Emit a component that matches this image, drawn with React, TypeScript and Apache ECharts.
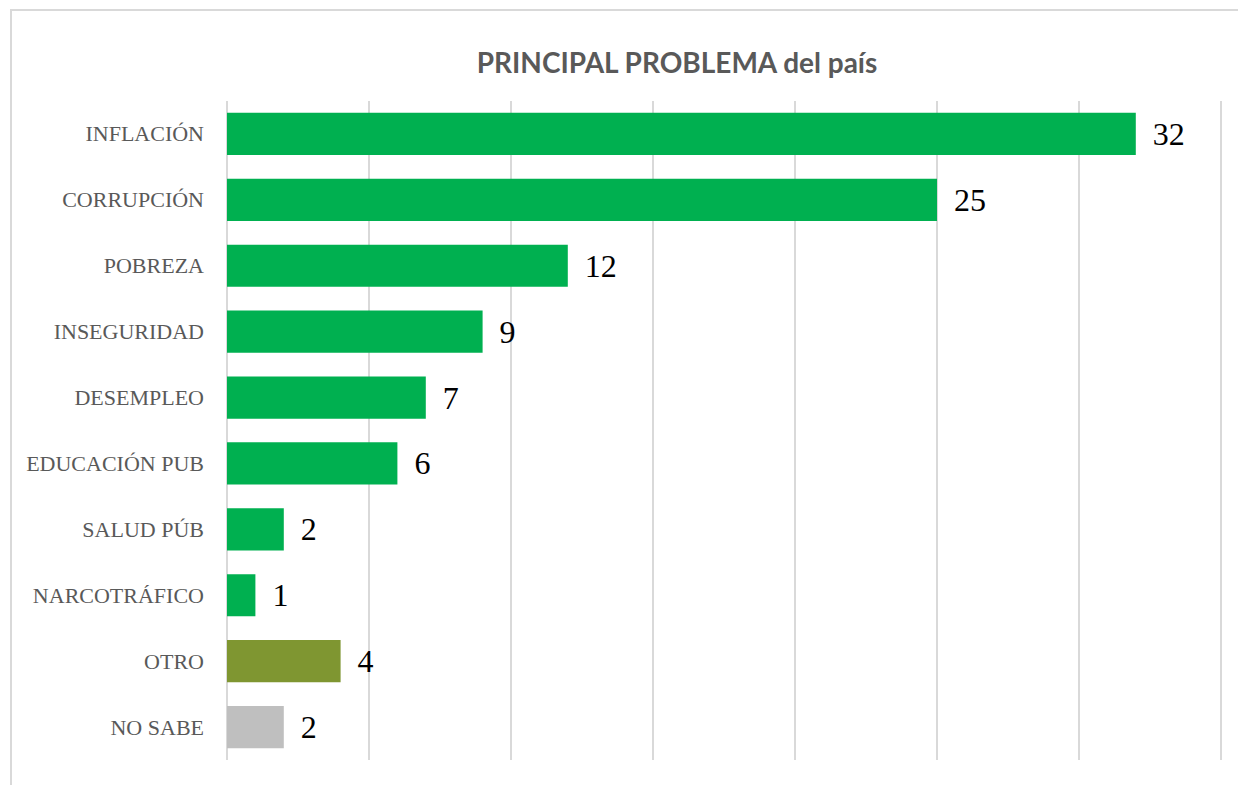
import React, { useEffect, useRef } from "react";
import * as echarts from "echarts";

const categories = [
  "INFLACIÓN",
  "CORRUPCIÓN",
  "POBREZA",
  "INSEGURIDAD",
  "DESEMPLEO",
  "EDUCACIÓN PUB",
  "SALUD PÚB",
  "NARCOTRÁFICO",
  "OTRO",
  "NO SABE",
];
const values = [32, 25, 12, 9, 7, 6, 2, 1, 4, 2];
const barColors = [
  "#00B050",
  "#00B050",
  "#00B050",
  "#00B050",
  "#00B050",
  "#00B050",
  "#00B050",
  "#00B050",
  "#7F9631",
  "#BFBFBF",
];

export default function App() {
  const ref = useRef<HTMLDivElement>(null);
  useEffect(() => {
    if (!ref.current) return;
    const chart = echarts.init(ref.current, null, { renderer: "svg" });
    chart.setOption({
      animation: false,
      backgroundColor: "#ffffff",
      title: {
        text: "PRINCIPAL PROBLEMA del país",
        left: 672,
        top: 43,
        textAlign: "center",
        textStyle: {
          fontFamily: "Lato",
          fontWeight: "bold",
          fontSize: 28,
          color: "#595959",
        },
      },
      graphic: [
        {
          type: "rect",
          shape: { x: 11, y: 10, width: 1300, height: 900 },
          style: { fill: "none", stroke: "#D9D9D9", lineWidth: 2 },
          silent: true,
          z: -1,
        },
      ],
      grid: { left: 227, right: 17, top: 101, bottom: 25, containLabel: false },
      xAxis: {
        type: "value",
        min: 0,
        max: 35,
        interval: 5,
        axisLabel: { show: false },
        axisLine: { show: false },
        axisTick: { show: false },
        splitLine: { show: true, lineStyle: { color: "#D9D9D9", width: 2 } },
      },
      yAxis: {
        type: "category",
        data: categories,
        inverse: true,
        axisLine: { show: false },
        axisTick: { show: false },
        axisLabel: {
          margin: 23,
          fontFamily: "Liberation Serif",
          fontSize: 22,
          color: "#595959",
        },
      },
      series: [
        {
          type: "bar",
          data: values.map((v, i) => ({ value: v, itemStyle: { color: barColors[i] } })),
          barCategoryGap: "36%",
          label: {
            show: true,
            position: "right",
            distance: 17,
            fontFamily: "Liberation Serif",
            fontSize: 32,
            color: "#000000",
          },
        },
      ],
    });
    return () => chart.dispose();
  }, []);
  return (
    <div
      ref={ref}
      style={{ position: "fixed", left: 0, top: 0, width: 1238, height: 785 }}
    />
  );
}
